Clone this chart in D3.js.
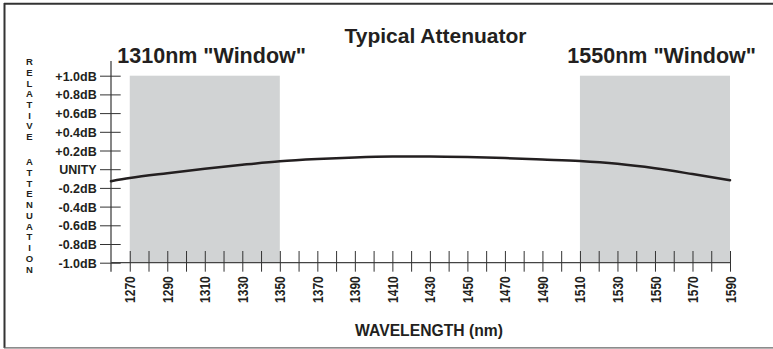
<!DOCTYPE html>
<html><head><meta charset="utf-8">
<script src="https://cdn.jsdelivr.net/npm/d3@7"></script>
<style>
html,body{margin:0;padding:0;background:#fff;}
svg{display:block;}
text{font-family:"Liberation Sans",Arial,Helvetica,sans-serif;font-weight:bold;fill:#231f20;}
</style></head>
<body>
<svg id="chart" width="773" height="349"></svg>
<script>
// ---- data ----
const wavelengths = [1260,1270,1290,1310,1330,1350,1370,1390,1410,1430,1450,1470,1490,1510,1530,1550,1570,1590];
const attenuation = [-0.128,-0.095,-0.043,0.005,0.047,0.084,0.108,0.125,0.135,0.137,0.131,0.119,0.104,0.088,0.058,0.010,-0.052,-0.118];
const xTicks = [1270,1280,1290,1300,1310,1320,1330,1340,1350,1360,1370,1380,1390,1400,1410,1420,1430,1440,1450,1460,1470,1480,1490,1500,1510,1520,1530,1540,1550,1560,1570,1580,1590];
const xLabelTicks = [1270,1290,1310,1330,1350,1370,1390,1410,1430,1450,1470,1490,1510,1530,1550,1570,1590];
const yTicks = [1.0,0.8,0.6,0.4,0.2,0,-0.2,-0.4,-0.6,-0.8,-1.0];
const yTickLabels = ["+1.0dB","+0.8dB","+0.6dB","+0.4dB","+0.2dB","UNITY","-0.2dB","-0.4dB","-0.6dB","-0.8dB","-1.0dB"];
const windows = [{label:'1310nm "Window"', from:1270, to:1350},{label:'1550nm "Window"', from:1510, to:1590}];
const title = "Typical Attenuator";
const xTitle = "WAVELENGTH (nm)";
const yTitleWords = ["RELATIVE","ATTENUATION"];

const svg = d3.select("#chart");
const ink = "#231f20";

// frame
svg.append("line").attr("x1",4).attr("x2",773).attr("y1",3.7).attr("y2",3.7).attr("stroke","#333").attr("stroke-width",2);
svg.append("line").attr("x1",4.5).attr("x2",4.5).attr("y1",3).attr("y2",348).attr("stroke","#333").attr("stroke-width",2);
svg.append("line").attr("x1",4).attr("x2",773).attr("y1",347.8).attr("y2",347.8).attr("stroke","#666").attr("stroke-width",1.2);

const x = d3.scaleLinear().domain([1260,1590]).range([111,730]);
const y = d3.scaleLinear().domain([-1,1]).range([262.7,75.7]);

// window shading
svg.selectAll("rect.win").data(windows).join("rect").attr("class","win")
  .attr("x",d=>x(d.from)).attr("width",d=>x(d.to)-x(d.from))
  .attr("y",y(1)).attr("height",y(-1)-y(1)).attr("fill","#d1d3d4");

// x axis
const xAxis = d3.axisBottom(x).tickValues(xTicks)
  .tickFormat(d=> xLabelTicks.includes(d) ? String(d) : "").tickSizeOuter(0);
const gx = svg.append("g").attr("transform",`translate(0,${y(-1)})`).call(xAxis);
gx.select(".domain").attr("stroke","#444").attr("stroke-width",1.3).attr("d",`M${x(1260)},0H${x(1590)+1}`);
gx.selectAll(".tick line").attr("y1",-11.7).attr("y2",9).attr("stroke","#333").attr("stroke-width",1);
const sx = 0.86;
gx.selectAll(".tick text").attr("transform",`rotate(-90) scale(${sx},1)`).attr("text-anchor","end")
  .attr("x",-13.5/sx).attr("y",0).attr("dy","0.36em")
  .style("font-size","14px").attr("fill",ink);
gx.attr("font-family",null).attr("font-size",null);

// y axis
const yAxis = d3.axisLeft(y).tickValues(yTicks)
  .tickFormat((d,i)=>yTickLabels[i]).tickSizeOuter(0);
const gy = svg.append("g").attr("transform",`translate(${x(1260)},0)`).call(yAxis);
gy.select(".domain").attr("stroke","#444").attr("stroke-width",1.3).attr("d",`M0,61V${y(-1)+9}`);
gy.selectAll(".tick line").attr("x1",-11).attr("x2",9.7).attr("stroke","#333").attr("stroke-width",1);
gy.selectAll(".tick text").attr("x",-14.3).attr("dy","0.36em")
  .style("font-size","12.5px").attr("fill",ink);
gy.attr("font-family",null).attr("font-size",null);

// curve
const line = d3.line().x((d,i)=>x(wavelengths[i])).y(d=>y(d)).curve(d3.curveMonotoneX);
svg.append("path").datum(attenuation).attr("d",line)
  .attr("fill","none").attr("stroke",ink).attr("stroke-width",2.5).attr("stroke-linecap","round");

// titles
svg.append("text").attr("x",435.5).attr("y",43).attr("text-anchor","middle")
  .style("font-size","21px").text(title);
svg.append("text").attr("x",117.3).attr("y",63.3).attr("text-anchor","start")
  .style("font-size","21.5px").text(windows[0].label);
svg.append("text").attr("x",756).attr("y",63.3).attr("text-anchor","end")
  .style("font-size","21.5px").text(windows[1].label);
svg.append("text").attr("x",429).attr("y",335.7).attr("text-anchor","middle")
  .style("font-size","15.7px").text(xTitle);

// vertical stacked y title
const yt = svg.append("g");
const starts = [61.7,161.7];
const steps = [10.7,10.76];
yTitleWords.forEach((w,wi)=>{
  w.split("").forEach((ch,ci)=>{
    yt.append("text").attr("x",29.5).attr("y",starts[wi]+ci*steps[wi]).attr("dy","0.36em")
      .attr("text-anchor","middle").style("font-size","9.5px").text(ch);
  });
});
</script>
</body></html>
